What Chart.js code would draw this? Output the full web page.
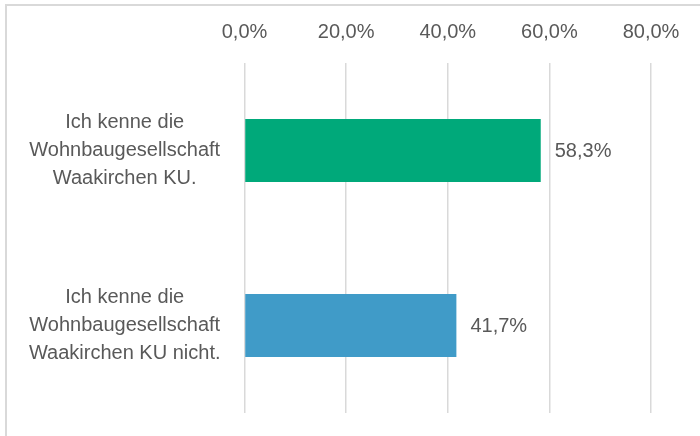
<!DOCTYPE html>
<html>
<head>
<meta charset="utf-8">
<script src="https://cdn.jsdelivr.net/npm/chart.js@4"></script>
<style>
  html, body { margin: 0; padding: 0; background: #fff; overflow: hidden; }
  #wrap { position: relative; width: 700px; height: 436px; }
  #frame {
    position: absolute; left: 5px; top: 4px; width: 740px; height: 480px;
    border: 2px solid #d9d9d9; box-sizing: border-box;
  }
  canvas { position: absolute; left: 0; top: 0; }
</style>
</head>
<body>
<div id="wrap">
  <div id="frame"></div>
  <canvas id="chart" width="700" height="436"></canvas>
</div>
<script>
const labelsKenne = [
  ["Ich kenne die", "Wohnbaugesellschaft", "Waakirchen KU."],
  ["Ich kenne die", "Wohnbaugesellschaft", "Waakirchen KU nicht."],
];
const valuesKenne = [58.3, 41.7];
const colorsKenne = ["#00A97A", "#409BC8"];

const textColor = "#595959";
const fontFamily = "'Liberation Sans', Arial, sans-serif";

const formatPct = (v) => v.toFixed(1).replace(".", ",") + "%";

// draws the value just right of each bar end
const barValueLabels = {
  id: "barValueLabels",
  afterDatasetsDraw(chart) {
    const ctx = chart.ctx;
    const meta = chart.getDatasetMeta(0);
    ctx.save();
    ctx.fillStyle = textColor;
    ctx.font = "20px " + fontFamily;
    ctx.textAlign = "left";
    ctx.textBaseline = "middle";
    meta.data.forEach((bar, i) => {
      ctx.fillText(formatPct(valuesKenne[i]), bar.x + 14, bar.y + 1);
    });
    ctx.restore();
  },
};

const ctxKenne = document.querySelector("#chart").getContext("2d");

new Chart(ctxKenne, {
  type: "bar",
  data: {
    labels: labelsKenne,
    datasets: [
      {
        data: valuesKenne,
        backgroundColor: colorsKenne,
        barPercentage: 0.36,
        categoryPercentage: 1,
      },
    ],
  },
  options: {
    indexAxis: "y",
    responsive: false,
    animation: false,
    layout: {
      padding: { top: 1, right: 49, bottom: 23, left: 10 },
    },
    scales: {
      x: {
        position: "top",
        min: 0,
        max: 80,
        ticks: {
          stepSize: 20,
          color: textColor,
          font: { size: 20, family: fontFamily },
          padding: 19,
          callback: (v) => formatPct(v),
        },
        grid: { color: "#d9d9d9", lineWidth: 1.5, drawTicks: false },
        border: { display: false },
        afterFit(scale) {
          scale.paddingLeft = 0;
          scale.paddingRight = 0;
        },
      },
      y: {
        ticks: {
          color: textColor,
          font: { size: 20, family: fontFamily, lineHeight: 1.4 },
          crossAlign: "center",
          padding: 16,
        },
        grid: { display: false },
        border: { display: false },
        afterFit(scale) {
          scale.width = 234.5;
          scale.paddingTop = 0;
          scale.paddingBottom = 0;
        },
      },
    },
    plugins: {
      legend: { display: false },
      tooltip: { enabled: false },
    },
  },
  plugins: [barValueLabels],
});
</script>
</body>
</html>
